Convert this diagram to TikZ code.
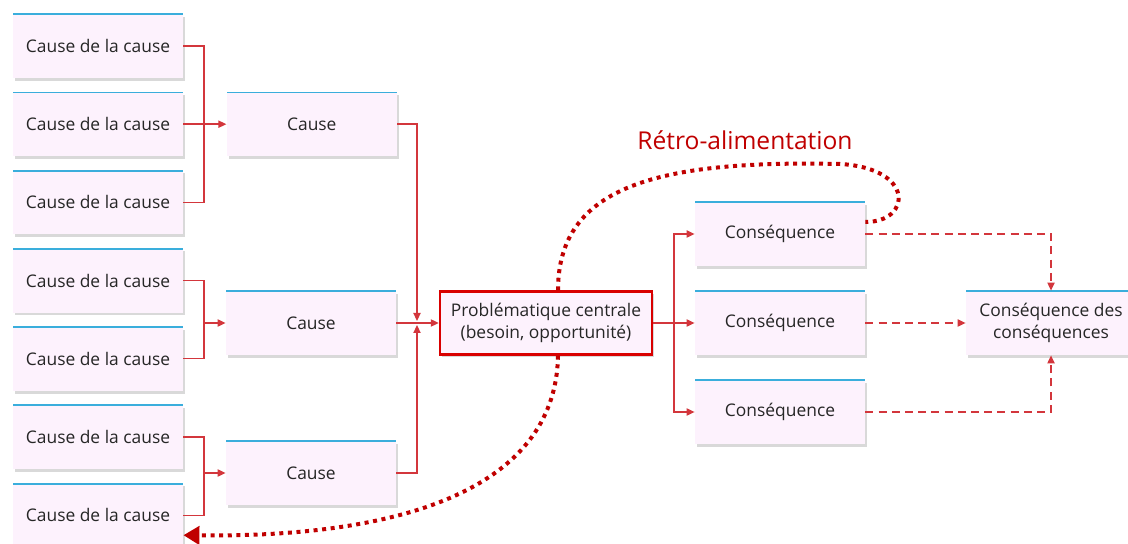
\documentclass[tikz,border=0pt]{standalone}
\usepackage{fontspec}
\setmainfont{Open Sans}
\usepackage{xcolor}
\usetikzlibrary{arrows.meta,positioning,shadows}

\definecolor{boxfill}{HTML}{FDF2FD}
\definecolor{topline}{HTML}{3AAEDC}
\definecolor{linkred}{HTML}{D3363C}
\definecolor{loopred}{HTML}{C00000}
\definecolor{txt}{HTML}{262626}

\begin{document}
\begin{tikzpicture}[
  x=0.5pt,y=-0.5pt,
  node distance=6.7pt and 21.5pt,
  box/.style={fill=boxfill,align=center,inner sep=2pt,font=\fontsize{8.7}{11}\selectfont,
              text=txt,minimum width=85pt,minimum height=32pt,
              drop shadow={shadow xshift=1.2pt,shadow yshift=-1.4pt,opacity=.3},
              path picture={\draw[topline,line width=1.3pt]
                (path picture bounding box.north west) -- (path picture bounding box.north east);}},
  core/.style={box,draw=red!85!black,line width=1.2pt,minimum width=106pt,minimum height=31.5pt,
               path picture={}},
  arr/.style={-{Triangle[length=4pt,width=3.6pt]},linkred,line width=.7pt},
  lnk/.style={linkred,line width=.7pt},
  dsh/.style={arr,dash pattern=on 4pt off 2.6pt},
  loop/.style={loopred,line width=2pt,dash pattern=on 2pt off 2.3pt}
]
\useasboundingbox (0,0) rectangle (1128,544);

% causes of the causes
\node[box] (cc1) at (98,46) {Cause de la cause};
\node[box,below=of cc1] (cc2) {Cause de la cause};
\node[box,below=of cc2] (cc3) {Cause de la cause};
\node[box,below=of cc3] (cc4) {Cause de la cause};
\node[box,below=of cc4] (cc5) {Cause de la cause};
\node[box,below=of cc5] (cc6) {Cause de la cause};
\node[box,below=of cc6] (cc7) {Cause de la cause};

% causes
\node[box,right=of cc2] (cause1) {Cause};
\node[box] (cause2) at (311,323) {Cause};
\node[box] (cause3) at (311,473) {Cause};

% central problem and consequences
\node[core] (central) at (546,323) {Problématique centrale\\(besoin, opportunité)};
\node[box] (cons1) at (780,234) {Conséquence};
\node[box] (cons2) at (780,323) {Conséquence};
\node[box] (cons3) at (780,412) {Conséquence};
\node[box] (cdc) at (1051,323) {Conséquence des\\conséquences};

\coordinate (bus1) at (204,124);
\coordinate (bus2) at (204,323);
\coordinate (bus3) at (204,473);
\coordinate (jin) at (417,323);
\coordinate (jout) at (674,323);

\draw[lnk] (cc1.east) -| (bus1);
\draw[lnk] (cc3.east) -| (bus1);
\draw[arr] (cc2.east) -- (cause1.west);
\draw[lnk] (cc4.east) -| (bus2);
\draw[lnk] (cc5.east) -| (bus2);
\draw[arr] (bus2) -- (cause2.west);
\draw[lnk] (cc6.east) -| (bus3);
\draw[lnk] (cc7.east) -| (bus3);
\draw[arr] (bus3) -- (cause3.west);

\draw[arr] (cause1.east) -| ([yshift=1pt]jin);
\draw[arr] (cause3.east) -| ([yshift=-1pt]jin);
\draw[arr] (cause2.east) -- (central.west);

\draw[arr] (central.east) -- (cons2.west);
\draw[arr] (jout) |- (cons1.west);
\draw[arr] (jout) |- (cons3.west);

\draw[dsh] (cons1.east) -| (cdc.north);
\draw[dsh] (cons2.east) -- (cdc.west);
\draw[dsh] (cons3.east) -| (cdc.south);

% feedback loop
\draw[loop] ([xshift=6pt]central.north) .. controls (558,185) and (660,160) .. (840,164)
  .. controls (915,168) and (912,222) .. ([yshift=6pt]cons1.east);
\draw[loop,-{Triangle[length=8pt,width=9pt]}] ([xshift=6pt]central.south)
  .. controls (556,480) and (420,538) .. ([yshift=-10pt]cc7.east);
\node[text=loopred,font=\fontsize{12.3}{14}\selectfont] (retro) at (745,140) {Rétro-alimentation};
\end{tikzpicture}
\end{document}
